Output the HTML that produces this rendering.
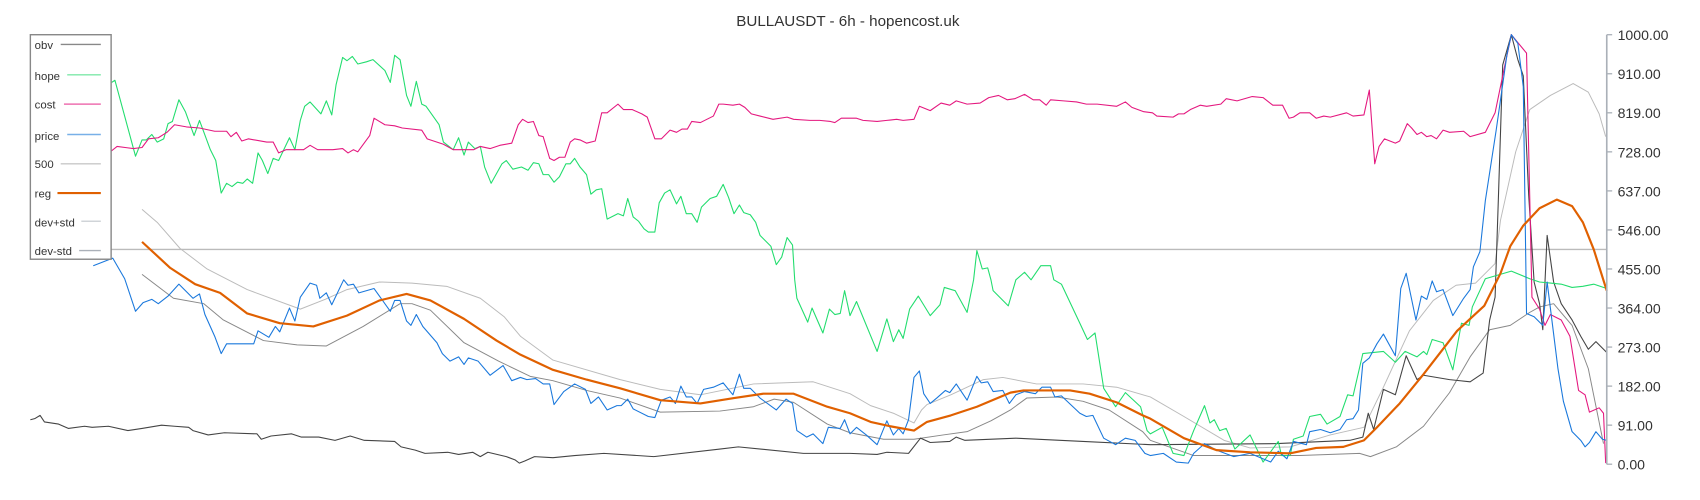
<!DOCTYPE html>
<html><head><meta charset="utf-8"><style>html,body{margin:0;padding:0;background:#fff}svg{display:block}</style></head>
<body>
<svg width="1700" height="500" viewBox="0 0 1568 461" preserveAspectRatio="none" xmlns="http://www.w3.org/2000/svg" font-family="Liberation Sans, sans-serif">
<rect width="1568" height="461" fill="#fff"/>
<text x="782" y="24" text-anchor="middle" font-size="14" fill="#333">BULLAUSDT - 6h - hopencost.uk</text>
<line x1="28" y1="230" x2="1482" y2="230" stroke="#bbb" stroke-width="1.3"/>
<g fill="none" stroke-linejoin="round">
<!-- dev+std -->
<polyline stroke="#bbb" stroke-width="0.9" points="131,193 145,205 166,229 191,248 228,267 277,285 300,276 320,267 350,260 380,261 412,264 443,275 465,292 480,310 510,332 572,350 609,359 646,364 695,354 750,352 784,363 803,374 824,381 843,390 850,378 855,373 877,364 907,350 925,348 956,354 999,354 1030,357 1061,366 1092,384 1129,406 1153,413 1190,412 1227,401 1258,394 1276,357 1300,305 1322,277 1343,263 1361,261 1379,243 1384,203 1398,140 1411,101 1430,88 1451,77 1465,85 1475,105 1481,126"/>
<!-- dev-std -->
<polyline stroke="#888" stroke-width="0.9" points="131,253 160,275 188,280 206,295 243,314 274,318 301,319 335,301 369,280 380,280 397,286 428,316 460,333 489,347 510,351 541,360 572,367 609,380 664,379 695,375 714,368 732,371 763,391 784,399 815,405 843,405 870,401 892,398 914,388 932,378 947,367 975,366 999,370 1023,378 1054,398 1061,406 1101,420 1199,420 1254,418 1264,421 1288,412 1313,393 1337,362 1356,329 1374,304 1393,300 1411,288 1420,283 1433,280 1450,300 1465,340 1479,409"/>
<!-- obv -->
<polyline stroke="#444" stroke-width="1" points="28,387 32,386 37,383 41,389 54,391 63,395 78,393 85,394 100,393 118,397 131,395 149,392 161,393 174,394 178,397 192,401 207,399 237,400 241,405 250,402 269,400 278,403 294,403 309,406 323,402 336,406 364,407 370,412 383,415 392,418 413,417 423,419 436,417 443,421 450,417 467,421 475,424 479,427 484,425 493,421 510,422 530,420 557,418 603,421 664,414 681,412 741,418 784,418 809,419 818,417 838,418 849,404 858,408 876,407 882,403 890,406 937,404 999,407 1061,410 1178,409 1245,406 1257,403 1262,381 1267,396 1276,359 1287,364 1297,328 1307,350 1313,346 1337,350 1356,352 1368,344 1374,295 1379,274 1382,184 1386,60 1394,32 1400,55 1405,70 1410,180 1415,260 1420,280 1423,304 1427,217 1433,260 1440,280 1450,295 1458,310 1465,322 1472,315 1482,325"/>
<!-- hope -->
<polyline stroke="#22dd6e" stroke-width="1" points="103,76 106,74 125,144 131,129 135,129 140,124 145,131 151,128 155,114 159,112 165,92 171,103 179,125 184,111 194,138 199,148 204,178 209,169 214,172 219,168 224,169 228,165 233,169 238,141 242,148 247,160 252,146 257,148 267,127 272,138 277,111 281,98 286,94 296,105 301,93 306,106 310,78 316,53 320,56 325,52 330,59 338,57 344,55 355,65 360,76 364,51 369,55 375,88 379,98 384,75 389,96 393,98 405,115 409,131 418,138 423,127 428,143 432,131 438,137 443,135 447,154 453,169 463,151 467,148 473,156 481,154 487,157 492,150 497,151 501,161 506,161 511,168 516,163 522,151 526,151 530,146 535,154 541,161 545,179 550,175 555,174 560,202 570,197 575,199 579,183 584,200 589,204 594,211 598,214 604,214 608,187 613,178 618,175 624,188 628,181 633,197 638,197 643,205 647,191 655,183 661,181 667,170 672,182 677,197 682,189 686,196 692,198 697,205 701,217 711,227 716,244 721,237 726,219 731,226 733,258 735,275 745,297 749,284 759,307 765,285 770,290 775,289 779,268 784,291 790,278 809,324 818,294 824,315 829,304 833,312 839,285 847,273 858,291 867,281 871,265 881,268 892,288 898,258 901,231 906,248 911,247 914,258 916,268 930,282 937,258 945,251 951,258 960,245 969,245 972,258 979,262 996,298 1003,313 1010,307 1018,358 1029,375 1038,362 1052,375 1058,397 1061,400 1072,394 1082,418 1092,420 1101,397 1111,374 1116,390 1120,387 1125,397 1131,395 1139,414 1153,401 1165,426 1179,407 1182,420 1190,420 1193,405 1202,402 1208,384 1218,382 1224,391 1236,384 1243,364 1248,365 1257,326 1276,324 1287,334 1296,324 1307,329 1313,324 1316,327 1321,313 1331,316 1340,341 1348,298 1355,300 1358,283 1370,257 1394,250 1411,257 1420,260 1430,261 1440,262 1450,265 1460,264 1470,262 1482,266"/>
<!-- cost -->
<polyline stroke="#e4187f" stroke-width="1" points="28,135 40,135 60,137 80,138 95,139 103,139 108,135 123,137 131,136 137,128 146,127 154,122 161,115 172,117 184,118 198,121 209,121 213,126 218,122 223,130 229,128 246,131 252,131 257,141 264,138 280,138 286,134 293,138 307,138 316,137 321,141 326,138 330,140 341,125 345,109 355,115 364,116 371,118 389,120 394,128 409,133 418,138 437,138 443,135 452,137 461,134 472,132 478,115 482,110 487,113 492,112 497,125 501,126 507,146 511,148 516,145 521,145 526,131 530,128 535,129 541,132 549,130 555,104 560,104 570,96 575,101 583,101 592,105 597,108 604,128 610,128 618,120 624,122 629,119 634,119 638,112 646,113 658,107 663,96 667,96 676,97 682,96 687,99 693,105 701,107 713,110 726,108 732,110 747,111 756,111 766,112 770,113 776,109 790,109 796,111 809,112 818,111 827,110 833,111 843,110 848,98 858,102 868,95 876,97 882,93 892,96 904,95 912,90 921,88 929,92 936,91 945,87 953,92 959,92 965,97 969,92 981,93 993,94 1002,96 1012,96 1030,98 1038,94 1044,99 1055,103 1063,104 1067,107 1082,108 1087,105 1092,105 1098,101 1107,97 1113,98 1126,96 1131,91 1141,93 1155,89 1165,90 1174,97 1183,97 1189,109 1193,108 1199,104 1208,104 1214,109 1221,107 1227,108 1242,104 1248,107 1258,106 1263,83 1268,151 1272,135 1277,128 1287,132 1291,130 1298,114 1302,118 1307,124 1311,122 1316,126 1320,125 1325,128 1331,120 1337,122 1350,121 1356,126 1370,122 1379,104 1387,65 1394,32 1408,49 1413,274 1420,285 1425,300 1430,290 1440,295 1448,310 1456,360 1462,364 1466,380 1475,376 1479,381 1481,427"/>
<!-- price -->
<polyline stroke="#1a78dc" stroke-width="1" points="86,245 104,238 115,257 125,287 132,279 140,276 146,280 155,273 165,262 178,275 184,271 189,290 198,310 204,326 209,317 234,317 238,305 248,311 254,301 258,306 267,284 272,296 277,274 286,261 292,263 295,275 301,270 306,281 317,258 321,263 326,262 331,270 345,266 360,287 364,277 369,277 375,296 379,300 384,290 390,301 403,316 408,326 415,333 423,329 428,336 432,330 441,333 452,346 464,337 472,351 480,348 486,350 494,349 501,354 507,354 511,373 520,361 530,354 540,359 545,372 552,366 560,378 569,374 573,374 579,368 584,377 598,384 604,385 610,369 618,366 623,372 628,356 633,366 638,366 643,372 649,359 658,357 667,353 676,364 682,345 686,358 692,358 701,367 716,378 725,368 731,372 735,397 744,403 750,400 759,409 764,394 775,395 779,387 784,400 790,394 799,401 809,410 818,388 824,401 829,395 833,400 838,387 843,348 848,342 852,363 858,372 864,367 872,360 876,362 882,354 892,369 901,347 905,353 911,352 916,361 925,360 931,372 937,364 945,361 955,363 961,357 969,357 973,366 979,365 996,381 1002,384 1008,383 1018,404 1029,410 1038,404 1047,406 1056,418 1061,420 1073,418 1085,426 1096,427 1101,418 1111,409 1122,415 1138,421 1153,418 1172,426 1179,416 1187,423 1193,407 1205,410 1208,398 1218,396 1227,399 1236,396 1242,387 1248,386 1253,378 1257,335 1263,330 1270,317 1276,308 1287,328 1292,266 1297,252 1306,295 1311,273 1316,276 1321,259 1325,269 1331,267 1340,291 1350,275 1356,267 1359,246 1365,232 1370,185 1380,120 1390,50 1394,32 1400,40 1405,80 1408,289 1415,292 1423,300 1427,260 1432,300 1437,340 1442,370 1450,398 1458,406 1462,412 1466,408 1472,398 1478,405 1482,406"/>
<!-- reg -->
<polyline stroke="#e06000" stroke-width="2" points="131,223 157,247 180,262 203,270 228,289 258,298 289,301 320,291 350,277 375,271 397,277 428,294 458,314 480,327 510,341 541,350 572,358 609,369 646,372 677,367 704,363 732,363 763,375 784,381 803,389 821,393 843,397 855,389 877,383 901,375 932,362 944,360 987,360 1005,363 1030,371 1054,383 1061,386 1092,404 1122,415 1153,417 1190,418 1214,413 1239,412 1258,406 1270,394 1291,372 1313,345 1344,305 1369,282 1384,252 1393,227 1405,208 1420,192 1436,184 1450,190 1460,205 1470,230 1482,268"/>
</g>
<line x1="1482" y1="32" x2="1482" y2="428" stroke="#aab0b8" stroke-width="1.5"/>
<g stroke="#aab0b8" stroke-width="1.2">
<line x1="1482" y1="32" x2="1487" y2="32"/><line x1="1482" y1="68" x2="1487" y2="68"/><line x1="1482" y1="104" x2="1487" y2="104"/><line x1="1482" y1="140" x2="1487" y2="140"/><line x1="1482" y1="176" x2="1487" y2="176"/><line x1="1482" y1="212" x2="1487" y2="212"/><line x1="1482" y1="248" x2="1487" y2="248"/><line x1="1482" y1="284" x2="1487" y2="284"/><line x1="1482" y1="320" x2="1487" y2="320"/><line x1="1482" y1="356" x2="1487" y2="356"/><line x1="1482" y1="392" x2="1487" y2="392"/><line x1="1482" y1="428" x2="1487" y2="428"/>
</g>
<g font-size="13" fill="#333">
<text x="1492" y="37">1000.00</text><text x="1492" y="73">910.00</text><text x="1492" y="109">819.00</text><text x="1492" y="145">728.00</text><text x="1492" y="181">637.00</text><text x="1492" y="217">546.00</text><text x="1492" y="253">455.00</text><text x="1492" y="289">364.00</text><text x="1492" y="325">273.00</text><text x="1492" y="361">182.00</text><text x="1492" y="397">91.00</text><text x="1492" y="433">0.00</text>
</g>
<rect x="28" y="32" width="74.5" height="207" fill="#fff" stroke="#888" stroke-width="1.3"/>
<g font-size="10.5" fill="#333">
<text x="32" y="45">obv</text><text x="32" y="74">hope</text><text x="32" y="100">cost</text><text x="32" y="129">price</text><text x="32" y="155">500</text><text x="32" y="182">reg</text><text x="32" y="209">dev+std</text><text x="32" y="235">dev-std</text>
</g>
<g stroke-width="1.3">
<line x1="56" y1="41" x2="93" y2="41" stroke="#888"/>
<line x1="62" y1="69" x2="93" y2="69" stroke="#7ee8a8"/>
<line x1="59" y1="96" x2="93" y2="96" stroke="#ee70b0"/>
<line x1="62" y1="124" x2="93" y2="124" stroke="#78b0e8"/>
<line x1="56" y1="151" x2="93" y2="151" stroke="#c8c8c8"/>
<line x1="53" y1="178" x2="93" y2="178" stroke="#e06000" stroke-width="2"/>
<line x1="75" y1="204" x2="93" y2="204" stroke="#d0d4d8"/>
<line x1="73" y1="231" x2="93" y2="231" stroke="#aab0b8"/>
</g>
</svg>
</body></html>
